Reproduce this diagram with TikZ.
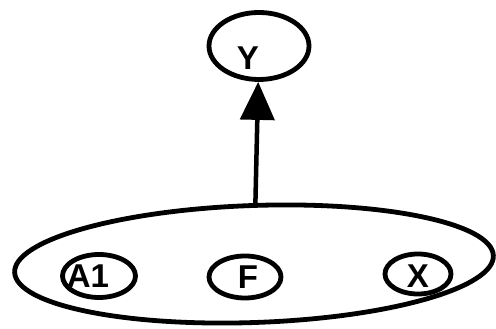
\documentclass[tikz,border=0pt]{standalone}
\usepackage{fontspec}
\setmainfont{Liberation Sans}
\usetikzlibrary{arrows.meta,shapes.geometric}
\tikzset{
  >={Triangle[length=38pt,width=34pt]},
  oval/.style={draw,ellipse,line width=4.8pt,inner sep=0pt},
  txt/.style={font=\fontsize{33}{38}\selectfont\bfseries,inner sep=0pt},
  arr/.style={->,line width=4.5pt},
}
\begin{document}
\begin{tikzpicture}[x=1pt,y=1pt]
\useasboundingbox (0,0) rectangle (496,329);
% outcome
\node[oval,minimum width=100pt,minimum height=67pt,
  label={[txt,shift={(-11pt,-12pt)}]center:Y}] (y) at (259,283) {};
% group of causes
\node[oval,rotate=2,minimum width=479pt,minimum height=117pt] (grp) at (254,65) {};
\node[oval,minimum width=73pt,minimum height=43pt,
  label={[txt,shift={(-11pt,0pt)}]center:A1}] (a1) at (99,53) {};
\node[oval,minimum width=72pt,minimum height=42pt,
  label={[txt,shift={(3pt,0pt)}]center:F}] (f) at (245,52) {};
\node[oval,minimum width=66pt,minimum height=40pt,
  label={[txt,shift={(0pt,-2pt)}]center:X}] (x) at (418,55) {};
\draw[arr] (grp) -- (y);
\end{tikzpicture}
\end{document}
